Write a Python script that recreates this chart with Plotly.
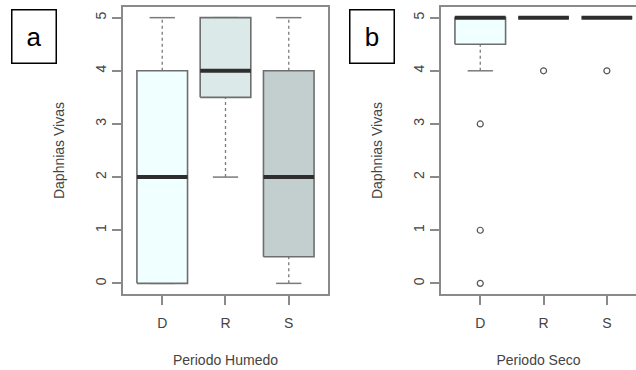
import plotly.graph_objects as go

# ---- data ----
categories = ["D", "R", "S"]

humedo_low = [0, 2, 0]
humedo_q1 = [0, 3.5, 0.5]
humedo_median = [2, 4, 2]
humedo_q3 = [4, 5, 4]
humedo_high = [5, 5, 5]

seco_low = [4, 5, 5]
seco_q1 = [4.5, 5, 5]
seco_median = [5, 5, 5]
seco_q3 = [5, 5, 5]
seco_high = [5, 5, 5]
seco_outlier_cat = ["D", "D", "D", "R", "S"]
seco_outlier_val = [3, 1, 0, 4, 4]

y_ticks = [0, 1, 2, 3, 4, 5]
fill_colors = ["#f0ffff", "#dbeae9", "#c3cfcf"]

FONT = "Liberation Sans, Arial, sans-serif"
BOX_W = 0.8
CAP_W = 0.4

fig = go.Figure()


def add_boxes(low, q1, med, q3, high, xa, ya):
    for i, cat in enumerate(categories):
        x = i + 1
        # whiskers (dashed)
        fig.add_trace(go.Scatter(
            x=[x, x, None, x, x], y=[low[i], q1[i], None, q3[i], high[i]],
            mode="lines", line=dict(color="#7a7a7a", width=1.3, dash="3px,3px"),
            xaxis=xa, yaxis=ya, hoverinfo="skip", showlegend=False))
        # staples
        fig.add_trace(go.Scatter(
            x=[x - CAP_W / 2, x + CAP_W / 2, None, x - CAP_W / 2, x + CAP_W / 2],
            y=[low[i], low[i], None, high[i], high[i]],
            mode="lines", line=dict(color="#7a7a7a", width=1.5),
            xaxis=xa, yaxis=ya, hoverinfo="skip", showlegend=False))
        # box
        fig.add_trace(go.Scatter(
            x=[x - BOX_W / 2, x + BOX_W / 2, x + BOX_W / 2, x - BOX_W / 2, x - BOX_W / 2],
            y=[q1[i], q1[i], q3[i], q3[i], q1[i]],
            mode="lines", fill="toself", fillcolor=fill_colors[i],
            line=dict(color="#6e6e6e", width=1.6),
            xaxis=xa, yaxis=ya, name=cat, showlegend=False))
        # median
        fig.add_trace(go.Scatter(
            x=[x - BOX_W / 2, x + BOX_W / 2], y=[med[i], med[i]],
            mode="lines", line=dict(color="#2e2e2e", width=4),
            xaxis=xa, yaxis=ya, hoverinfo="skip", showlegend=False))


add_boxes(humedo_low, humedo_q1, humedo_median, humedo_q3, humedo_high, "x", "y")
add_boxes(seco_low, seco_q1, seco_median, seco_q3, seco_high, "x2", "y2")

fig.add_trace(go.Scatter(
    x=[categories.index(c) + 1 for c in seco_outlier_cat], y=seco_outlier_val,
    mode="markers", marker=dict(symbol="circle-open", size=6, color="#555555",
                                line=dict(width=1.2, color="#555555")),
    xaxis="x2", yaxis="y2", showlegend=False))

axis_common = dict(
    showgrid=False, zeroline=False, showline=True, linecolor="#8a8a8a", linewidth=2,
    ticks="outside", ticklen=9, tickwidth=1.5, tickcolor="#8a8a8a", automargin=False,
    tickfont=dict(family=FONT, size=14, color="#444444"),
)

y_dom = [0.2054, 0.981]
xtitle_font = dict(family=FONT, size=14, color="#444444")
ytitle_font = dict(family=FONT, size=14, color="#444444")

fig.update_layout(
    width=636, height=370,
    margin=dict(l=0, r=0, t=0, b=0),
    paper_bgcolor="white", plot_bgcolor="white",
    showlegend=False,
    xaxis=dict(**axis_common, domain=[0.1934, 0.5157], range=[0.38, 3.62],
               tickvals=[1, 2, 3], ticktext=categories, mirror=True, anchor="y",
               ticklabelstandoff=6,
               title=dict(text="Periodo Humedo", font=xtitle_font, standoff=25)),
    yaxis=dict(**axis_common, domain=y_dom, range=[-0.2, 5.2], tickvals=y_ticks,
               tickangle=-90, mirror=True, anchor="x",
               title=dict(text="Daphnias Vivas", font=ytitle_font, standoff=26)),
    xaxis2=dict(**axis_common, domain=[0.6934, 1.0], range=[0.38, 3.46],
                tickvals=[1, 2, 3], ticktext=categories, mirror=True, anchor="y2",
                ticklabelstandoff=6,
                title=dict(text="Periodo Seco", font=xtitle_font, standoff=25)),
    yaxis2=dict(**axis_common, domain=y_dom, range=[-0.2, 5.2], tickvals=y_ticks,
                tickangle=-90, mirror=False, anchor="x2",
                title=dict(text="Daphnias Vivas", font=ytitle_font, standoff=26)),
    annotations=[
        dict(text="a", xref="paper", yref="paper", x=33.5 / 636, y=1 - 37 / 370,
             xanchor="center", yanchor="middle", showarrow=False, width=41, height=50,
             bordercolor="black", borderwidth=1.5, bgcolor="white",
             font=dict(family=FONT, size=26, color="black")),
        dict(text="b", xref="paper", yref="paper", x=372 / 636, y=1 - 37 / 370,
             xanchor="center", yanchor="middle", showarrow=False, width=41, height=50,
             bordercolor="black", borderwidth=1.5, bgcolor="white",
             font=dict(family=FONT, size=26, color="black")),
    ],
)

fig.write_html("out.html", config={"displayModeBar": False},
               post_script="document.body.style.margin='0';")
